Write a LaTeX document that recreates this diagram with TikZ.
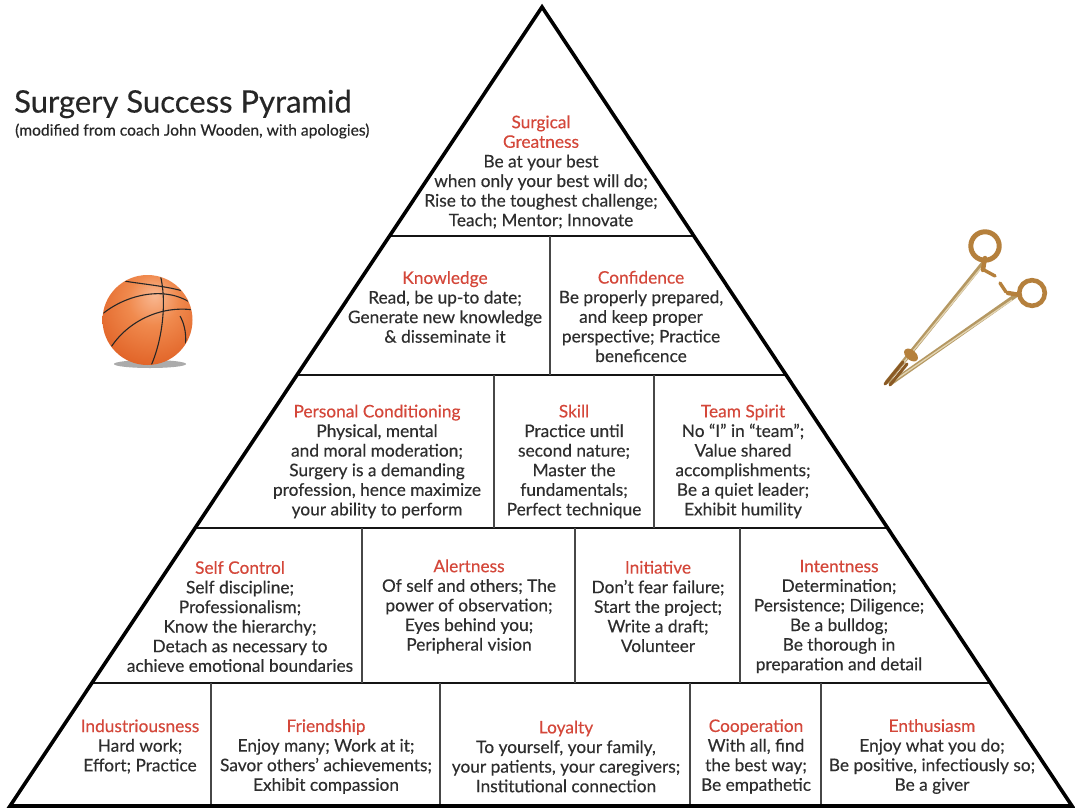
\documentclass[tikz,border=0pt]{standalone}
\usepackage{fontspec}
\setmainfont{Lato}[FakeBold=0.3]
\usetikzlibrary{calc}

\definecolor{hdr}{HTML}{D4473A}
\definecolor{bodytext}{HTML}{2E2E2E}
\definecolor{bbhl}{HTML}{F9B892}
\definecolor{bbmid}{HTML}{F08A4E}
\definecolor{bbor}{HTML}{E2662A}
\definecolor{bbdk}{HTML}{A83C12}
\definecolor{bronze}{HTML}{B5803C}
\definecolor{bronzedk}{HTML}{8A5A25}
\definecolor{steelgold}{HTML}{B59862}
\definecolor{steelhl}{HTML}{E2D4B2}

% ball shading, highlight placed above the centre
\pgfdeclareradialshading{bball}{\pgfpoint{4bp}{14bp}}{%
  color(0bp)=(bbhl); color(14bp)=(bbmid); color(32bp)=(bbor);
  color(50bp)=(bbdk); color(70bp)=(bbdk)}

\newcommand\pyrblock[2]{\textcolor{hdr}{#1}\\#2}

\tikzset{
  blockbox/.style={align=center, inner sep=0pt, text=bodytext,
    font=\fontsize{17.3}{19.6}\selectfont},
  outline/.style={line width=3.6pt, black, line join=miter},
  tierline/.style={line width=2.8pt, black!92},
  divider/.style={line width=1.8pt, black!72},
  seam/.style={line width=1.1pt, black!85},
}

\begin{document}
\begin{tikzpicture}[x=1pt,y=-1pt]
\useasboundingbox (0,0) rectangle (1075,808);
\fill[white] (0,0) rectangle (1075,808);

% ---- title ----
\node[anchor=west, inner sep=0pt, text=black!85, font=\fontsize{31}{34}\selectfont] (title) at (14,104) {Surgery Success Pyramid};
\node[anchor=west, inner sep=0pt, text=black!85, font=\fontsize{15.6}{18}\selectfont] (subtitle) at (15,131) {(modified from coach John Wooden, with apologies)};

% ---- pyramid frame ----
\coordinate (apex) at (542,7);
\coordinate (bl) at (10,806);
\coordinate (br) at (1072,806);

\foreach \y/\n in {236/a,375/b,528/c,683/d}{
  \coordinate (L\n) at ($(apex)!{(\y-7)/799}!(bl)$);
  \coordinate (R\n) at ($(apex)!{(\y-7)/799}!(br)$);
  \draw[tierline] (L\n) -- (R\n);
}

% vertical dividers inside each tier
\foreach \x in {550} \draw[divider] (\x,236) -- (\x,375);
\foreach \x in {494,654} \draw[divider] (\x,375) -- (\x,528);
\foreach \x in {362,575,740} \draw[divider] (\x,528) -- (\x,683);
\foreach \x in {211,440,690,821} \draw[divider] (\x,683) -- (\x,806);

\draw[outline] (apex) -- (bl) -- (br) -- cycle;

% ---- tier 1 ----
\node[blockbox] (greatness) at (541,172) {\textcolor{hdr}{Surgical}\\\textcolor{hdr}{Greatness}\\Be at your best\\when only your best will do;\\Rise to the toughest challenge;\\Teach; Mentor; Innovate};

% ---- tier 2 ----
\node[blockbox] (knowledge) at (445,307) {\pyrblock{Knowledge}{Read, be up-to date;\\Generate new knowledge\\\& disseminate it}};
\node[blockbox] (confidence) at (641,316.5) {\pyrblock{Confidence}{Be properly prepared,\\and keep proper\\perspective; Practice\\beneficence}};

% ---- tier 3 ----
\node[blockbox] (conditioning) at (377,461.5) {\pyrblock{Personal Conditioning}{Physical, mental\\and moral moderation;\\Surgery is a demanding\\profession, hence maximize\\your ability to perform}};
\node[blockbox] (skill) at (574,461.5) {\pyrblock{Skill}{Practice until\\second nature;\\Master the\\fundamentals;\\Perfect technique}};
\node[blockbox] (teamspirit) at (743,461.5) {\pyrblock{Team Spirit}{No “I” in “team”;\\Value shared\\accomplishments;\\Be a quiet leader;\\Exhibit humility}};

% ---- tier 4 ----
\node[blockbox] (selfcontrol) at (240,616.5) {\pyrblock{Self Control}{Self discipline;\\Professionalism;\\Know the hierarchy;\\Detach as necessary to\\achieve emotional boundaries}};
\node[blockbox] (alertness) at (469,606.5) {\pyrblock{Alertness}{Of self and others; The\\power of observation;\\Eyes behind you;\\Peripheral vision}};
\node[blockbox] (initiative) at (658,606.5) {\pyrblock{Initiative}{Don’t fear failure;\\Start the project;\\Write a draft;\\Volunteer}};
\node[blockbox] (intentness) at (839,616.5) {\pyrblock{Intentness}{Determination;\\Persistence; Diligence;\\Be a bulldog;\\Be thorough in\\preparation and detail}};

% ---- tier 5 ----
\node[blockbox] (industry) at (140,746.5) {\pyrblock{Industriousness}{Hard work;\\Effort; Practice}};
\node[blockbox] (friendship) at (326,756.5) {\pyrblock{Friendship}{Enjoy many; Work at it;\\Savor others’ achievements;\\Exhibit compassion}};
\node[blockbox] (loyalty) at (566,756.5) {\pyrblock{Loyalty}{To yourself, your family,\\your patients, your caregivers;\\Institutional connection}};
\node[blockbox] (cooperation) at (756,756.5) {\pyrblock{Cooperation}{With all, find\\the best way;\\Be empathetic}};
\node[blockbox] (enthusiasm) at (932,756.5) {\pyrblock{Enthusiasm}{Enjoy what you do;\\Be positive, infectiously so;\\Be a giver}};

% ---- basketball ----
\fill[black!55, opacity=0.6] (150,364) ellipse [x radius=36, y radius=4];
\shade[shading=bball] (147.5,320) circle [radius=45];
\begin{scope}
  \clip (147.5,320) circle [radius=44.5];
  \draw[seam] (100,316) .. controls (125,294) and (168,284) .. (195,306);
  \draw[seam] (160,274) .. controls (167,300) and (163,340) .. (150,368);
  \draw[seam] (118,280) .. controls (140,284) and (168,286) .. (186,292);
  \draw[seam] (108,352) .. controls (125,322) and (160,305) .. (194,310);
  \draw[seam] (180,316) .. controls (188,330) and (187,350) .. (181,362);
\end{scope}

% ---- needle holder ----
% shanks
\draw[line width=4.2pt, steelgold, line cap=round] (984,262) -- (887,382);
\draw[line width=1.3pt, steelhl] (981,268) -- (891,378);
\draw[line width=4.2pt, steelgold, line cap=round] (1018,294) -- (891,383);
\draw[line width=1.3pt, steelhl] (1012,300) -- (895,380);
% box joint and jaws
\fill[bronze] (911,355) ellipse [x radius=8, y radius=5, rotate=-40];
\draw[line width=3pt, bronzedk, line cap=round] (903,362) -- (885,384);
\draw[line width=3pt, bronzedk, line cap=round] (907,364) -- (890,385);
% necks with ratchet tabs
\draw[line width=4.4pt, bronze, line cap=round] (985,258) -- (983,270);
\draw[line width=3.4pt, bronze, line cap=round] (984,270) -- (995,276);
\draw[line width=4.4pt, bronze, line cap=round] (1020,295) -- (1008,293);
\draw[line width=3.4pt, bronze, line cap=round] (1006,292) -- (1000,283);
% finger rings
\draw[line width=5pt, bronze] (985,246) circle [radius=14.2];
\draw[line width=4.6pt, bronze] (1032,293) circle [radius=12.8];
\end{tikzpicture}
\end{document}
